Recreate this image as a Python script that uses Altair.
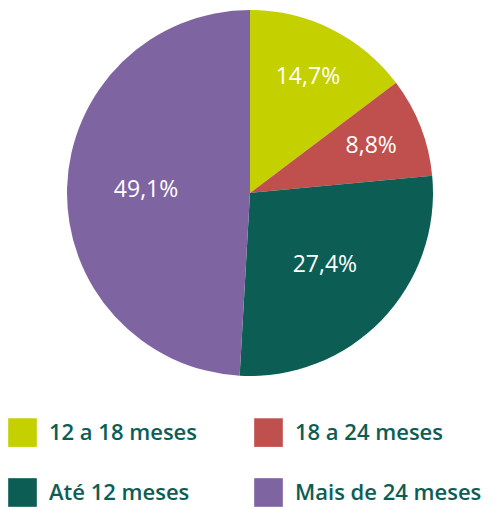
import altair as alt
import pandas as pd

categories = ["12 a 18 meses", "18 a 24 meses", "Até 12 meses", "Mais de 24 meses"]
values = [14.7, 8.8, 27.4, 49.1]
labels = ["14,7%", "8,8%", "27,4%", "49,1%"]
colors = ["#c4d000", "#c0504d", "#0c5e55", "#7f64a2"]

df = pd.DataFrame({"cat": categories, "val": values, "lab": labels, "order": range(4)})

color = alt.Color("cat:N", scale=alt.Scale(domain=categories, range=colors),
                  sort=categories,
                  legend=alt.Legend(title=None, orient="none", legendX=0, legendY=410,
                                    columns=2, direction="horizontal",
                                    symbolType="square", symbolSize=820,
                                    symbolStrokeWidth=0, labelFontSize=22, labelFont="Open Sans",
                                    labelFontWeight=600, labelColor="#0c5e55",
                                    labelOffset=12, columnPadding=57, rowPadding=31,
                                    labelLimit=300, symbolOpacity=1))

cx, cy = 242, 185
tscale = alt.Scale(domain=[0, 100], range=[0, 6.283185307])

base = alt.Chart(df).transform_window(
    cum="sum(val)", sort=[alt.SortField("order")]
).transform_calculate(
    start="datum.cum - datum.val", mid="datum.cum - datum.val / 2"
).encode(x=alt.value(cx), y=alt.value(cy))

pie = base.mark_arc(outerRadius=183, stroke=None).encode(
    theta=alt.Theta("start:Q", scale=tscale), theta2="cum:Q", color=color)
text_out = base.mark_text(radius=130, fontSize=23, font="Open Sans", fontWeight=500, color="white").encode(
    theta=alt.Theta("mid:Q", scale=tscale), text="lab:N").transform_filter("datum.order < 2")
text_in = base.mark_text(radius=104, fontSize=23, font="Open Sans", fontWeight=500, color="white").encode(
    theta=alt.Theta("mid:Q", scale=tscale), text="lab:N").transform_filter("datum.order >= 2")

chart = (pie + text_out + text_in).properties(width=479, height=502, padding=0,
                                 autosize=alt.AutoSizeParams(type="none")).configure_view(stroke=None)

chart.save("out.html", embed_options={"renderer": "svg", "actions": False})
